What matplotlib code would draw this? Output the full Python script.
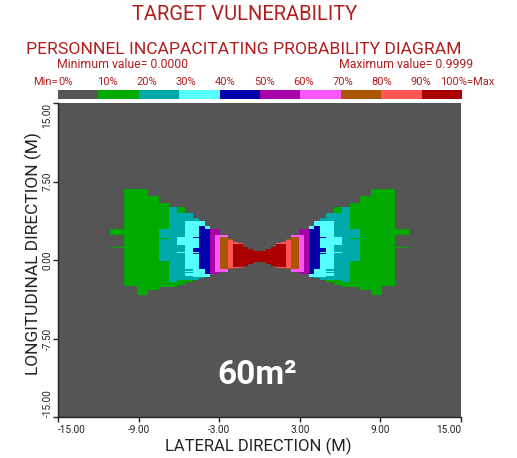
import numpy as np
import matplotlib
matplotlib.use('Agg')
import matplotlib.pyplot as plt

plt.rcParams['font.family'] = ['Roboto', 'DejaVu Sans']

# level colours (0% .. 90%+), EGA style palette like the original program
level_colors = ['#555555', '#00aa00', '#00aaaa', '#55ffff', '#0000aa',
                '#aa00aa', '#ff55ff', '#aa5500', '#ff5555', '#aa0000']
pct_labels = ['0%', '10%', '20%', '30%', '40%', '50%', '60%', '70%', '80%', '90%', '100%=Max']

# left half of the pattern, column edges (m); the right half is its mirror image
x_edges = [-11.13, -10.09, -9.14, -8.28, -7.46, -6.74, -6.12, -5.55, -4.93, -4.50,
           -4.06, -3.68, -3.31, -2.94, -2.32, -1.95, -1.58, -1.20, -0.83, -0.46, 0.0]
N = None
# per level: lower / upper extent (m) in each column, None = level not present
lvl1_lo = [2.39, -2.48, -3.34, -2.87, -2.55, -2.55, -2.39, -2.07, -1.91, N, N, N, N, N, N, N, N, N, N, N]
lvl1_hi = [2.93, 6.78, 6.78, 6.15, 5.48, 5.03, 5.03, 4.52, 4.04, N, N, N, N, N, N, N, N, N, N, N]
lvl2_lo = [N, N, N, N, -0.10, -2.07, -1.91, -1.91, -1.91, -1.75, -1.66, N, N, N, N, N, N, N, N, N]
lvl2_hi = [N, N, N, N, 2.93, 5.03, 4.52, 4.52, 4.04, 3.73, 3.25, N, N, N, N, N, N, N, N, N]
lvl3_lo = [N, N, N, N, N, N, 1.43, -1.50, -1.66, -1.66, -1.59, N, N, N, N, N, N, N, N, N]
lvl3_hi = [N, N, N, N, N, N, 2.17, 3.73, 3.73, 3.73, 3.25, N, N, N, N, N, N, N, N, N]
lvl4_lo = [N, N, N, N, N, N, N, N, N, -0.89, -1.34, N, N, N, N, N, N, N, N, N]
lvl4_hi = [N, N, N, N, N, N, N, N, N, 3.25, 2.93, N, N, N, N, N, N, N, N, N]
lvl5_lo = [N, N, N, N, N, N, N, N, N, N, N, -1.34, -1.34, N, N, N, N, N, N, N]
lvl5_hi = [N, N, N, N, N, N, N, N, N, N, N, 2.93, 2.93, N, N, N, N, N, N, N]
lvl6_lo = [N, N, N, N, N, N, N, N, N, N, N, N, -1.11, -1.11, N, N, N, N, N, N]
lvl6_hi = [N, N, N, N, N, N, N, N, N, N, N, N, 2.39, 2.39, N, N, N, N, N, N]
lvl7_lo = [N, N, N, N, N, N, N, N, N, N, N, N, N, -0.89, -0.89, N, N, N, N, N]
lvl7_hi = [N, N, N, N, N, N, N, N, N, N, N, N, N, 2.17, 2.05, N, N, N, N, N]
lvl8_lo = [N, N, N, N, N, N, N, N, N, N, N, N, N, N, -0.80, -0.80, -0.75, N, N, N]
lvl8_hi = [N, N, N, N, N, N, N, N, N, N, N, N, N, N, 1.91, 1.75, 1.60, N, N, N]
lvl9_lo = [N, N, N, N, N, N, N, N, N, N, N, N, N, N, N, -0.70, -0.66, -0.57, -0.38, -0.20]
lvl9_hi = [N, N, N, N, N, N, N, N, N, N, N, N, N, N, N, 1.53, 1.53, 1.27, 1.05, 0.89]

levels_lo = [lvl1_lo, lvl2_lo, lvl3_lo, lvl4_lo, lvl5_lo, lvl6_lo, lvl7_lo, lvl8_lo, lvl9_lo]
levels_hi = [lvl1_hi, lvl2_hi, lvl3_hi, lvl4_hi, lvl5_hi, lvl6_hi, lvl7_hi, lvl8_hi, lvl9_hi]

# thin scan lines seen in the picture (left half): x0, x1, y, level
stripe_x0 = [-11.13, -7.46, -6.12, -5.55, -5.55, -4.93, -4.93, -4.93, -4.93]
stripe_x1 = [-10.09, -6.74, -5.55, -4.93, -4.93, -4.50, -4.50, -4.50, -4.50]
stripe_y = [1.17, 2.07, 0.73, -0.95, -1.20, 2.17, 1.05, 0.85, 0.65]
stripe_lvl = [1, 1, 3, 2, 2, 4, 4, 4, 4]

red = '#b01e1e'
ink = '#222222'
W, H = 517, 458
fig = plt.figure(figsize=(W / 100, H / 100), dpi=100)
fig.patch.set_facecolor('white')

ax = fig.add_axes([58 / W, 41 / H, 403 / W, 314 / H])
ax.set_facecolor(level_colors[0])
ax.set_xlim(-15, 15)
ax.set_ylim(-15, 15)

edges = np.array(x_edges)
widths = np.diff(edges)
for k in range(9):
    lo = np.array([np.nan if v is None else v for v in levels_lo[k]])
    hi = np.array([np.nan if v is None else v for v in levels_hi[k]])
    m = ~np.isnan(lo)
    for lefts in (edges[:-1], -edges[1:]):
        ax.bar(lefts[m], (hi - lo)[m], width=widths[m], bottom=lo[m], align='edge',
               color=level_colors[k + 1], linewidth=0)

sx0, sx1 = np.array(stripe_x0), np.array(stripe_x1)
for x0, x1, y, k in zip(sx0, sx1, stripe_y, stripe_lvl):
    for left in (x0, -x1):
        ax.bar(left, 0.13, width=x1 - x0, bottom=y - 0.065, align='edge',
               color=level_colors[k], linewidth=0)

for s in ['top', 'right']:
    ax.spines[s].set_visible(False)
for s in ['left', 'bottom']:
    ax.spines[s].set_color(ink)
    ax.spines[s].set_linewidth(1)

xt = [-15, -9, -3, 3, 9, 15]
yt = [-15, -7.5, 0, 7.5, 15]
ax.set_xticks(xt, ['-15.00', '-9.00', '-3.00', '3.00', '9.00', '15.00'])
ax.set_yticks(yt, ['-15.00', '-7.50', '0.00', '7.50', '15.00'], rotation=90, va='center')
ax.tick_params(axis='x', direction='out', length=3.6, width=1, pad=2, labelsize=7.2, colors=ink)
ax.tick_params(axis='y', direction='out', length=3.6, width=1, pad=0.3, labelsize=7.2, colors=ink)
xl = ax.get_xticklabels()
xl[0].set_ha('left')
xl[-1].set_ha('right')
yl = ax.get_yticklabels()
yl[0].set_va('bottom')
yl[-1].set_va('top')

fig.text(258 / W, 1 - 446 / H, 'LATERAL DIRECTION (M)', ha='center', va='center',
         fontsize=12, color=ink)
fig.text(33 / W, 1 - 254 / H, 'LONGITUDINAL DIRECTION (M)', ha='center', va='center',
         rotation=90, fontsize=12.5, color=ink)

ax.text(-0.2, -11, '60m\u00b2', ha='center', va='center', color='white',
        fontsize=24, fontweight='bold', family='Roboto')

# titles
fig.text(245 / W, 1 - 15 / H, 'TARGET VULNERABILITY', ha='center', va='center', fontsize=14.5, color=red)
fig.text(244 / W, 1 - 49 / H, 'PERSONNEL INCAPACITATING PROBABILITY DIAGRAM', ha='center', va='center',
         fontsize=12.6, color=red)
fig.text(57 / W, 1 - 64 / H, 'Minimum value= 0.0000', ha='left', va='center', fontsize=8.8, color=red)
fig.text(473 / W, 1 - 64 / H, 'Maximum value= 0.9999', ha='right', va='center', fontsize=8.8, color=red)

# colour scale bar
cax = fig.add_axes([58 / W, 1 - 99 / H, 404 / W, 9 / H])
cax.bar(np.arange(10), np.ones(10), width=1, align='edge', color=level_colors, linewidth=0)
cax.set_xlim(0, 10)
cax.set_ylim(0, 1)
cax.axis('off')
lab_x = [0, 0.97, 1.94, 2.91, 3.88, 4.85, 5.82, 6.79, 7.76, 8.73, 9.45]
for xx, t in zip(lab_x, pct_labels):
    cax.text(xx, 1.9, t, ha='left', va='center', fontsize=8, color=red)
cax.text(0, 1.9, 'Min=', ha='right', va='center', fontsize=8, color=red)

fig.savefig('out.png', dpi=100, facecolor='white')
